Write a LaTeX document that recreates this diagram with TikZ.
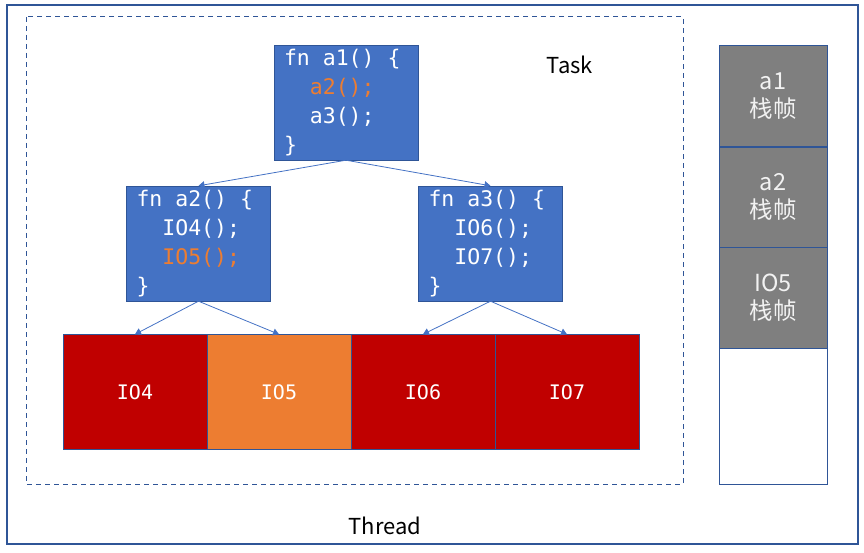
\documentclass[tikz,border=0pt]{standalone}
\usepackage{fontspec}
\setmainfont{Noto Sans CJK SC}
\setmonofont{DejaVu Sans Mono}
\usetikzlibrary{arrows.meta}
\definecolor{boxblue}{HTML}{4472C4}
\definecolor{edgeblue}{HTML}{2F5597}
\definecolor{callorange}{HTML}{ED7D31}
\definecolor{iored}{HTML}{C00000}
\definecolor{framegray}{HTML}{7F7F7F}
\newcommand{\csp}{\hphantom{x}}
\tikzset{
  codebox/.style={draw=edgeblue, fill=boxblue, text=white, align=left,
    text width=124pt, inner xsep=10pt, inner ysep=2pt, minimum height=115pt,
    font=\ttfamily\fontsize{21.5}{29}\selectfont},
  iobox/.style={draw=edgeblue, fill=iored, text=white, minimum width=144pt,
    minimum height=115pt, font=\ttfamily\fontsize{20}{24}\selectfont},
  framebox/.style={draw=edgeblue, fill=framegray, text=white!95!black, align=center,
    minimum width=108pt, minimum height=101pt, font=\fontsize{23.5}{28}\selectfont},
  flow/.style={draw=boxblue, line width=0.8pt, -{Triangle[length=6pt,width=7pt]}}
}
\begin{document}
\begin{tikzpicture}[x=1pt, y=-1pt]
      \useasboundingbox (0,0) rectangle (864,553);
      \draw[edgeblue, line width=1.1pt] (7,5) rectangle (858,544);
      \draw[edgeblue, line width=1pt, dash pattern=on 5pt off 4pt] (26,17) rectangle (683,484);
      \node (task) at (570,65) {\fontsize{22}{26}\selectfont Task};
      \node (thread) at (385,526) {\fontsize{22}{26}\selectfont Thread};
      \node[codebox] (a1) at (346,102.5) {fn\csp a1()\csp\{\\
        \csp\csp\textcolor{callorange}{a2();}\\
        \csp\csp a3();\\
        \}};
      \node[codebox] (a2) at (198.5,243.5) {fn\csp a2()\csp\{\\
        \csp\csp IO4();\\
        \csp\csp\textcolor{callorange}{IO5();}\\
        \}};
      \node[codebox] (a3) at (490.5,243.5) {fn\csp a3()\csp\{\\
        \csp\csp IO6();\\
        \csp\csp IO7();\\
        \}};
      \node[iobox] (io4) at (135,392) {IO4};
      \node[iobox, fill=callorange] (io5) at (279,392) {IO5};
      \node[iobox] (io6) at (423,392) {IO6};
      \node[iobox] (io7) at (567,392) {IO7};
      \node[framebox] (s1) at (773,96) {a1\\栈帧};
      \node[framebox, minimum height=100pt] (s2) at (773,197) {a2\\栈帧};
      \node[framebox] (s3) at (773,297.5) {IO5\\栈帧};
      \node[framebox, fill=white, minimum height=136pt] (s4) at (773,416) {};
      \begin{scope}[flow]
        \draw (a1.south) to (a2.north);
        \draw (a1.south) to (a3.north);
        \draw (a2.south) to (io4.north);
        \draw (a2.south) to (io5.north);
        \draw (a3.south) to (io6.north);
        \draw (a3.south) to (io7.north);
      \end{scope}
    \end{tikzpicture}
\end{document}
